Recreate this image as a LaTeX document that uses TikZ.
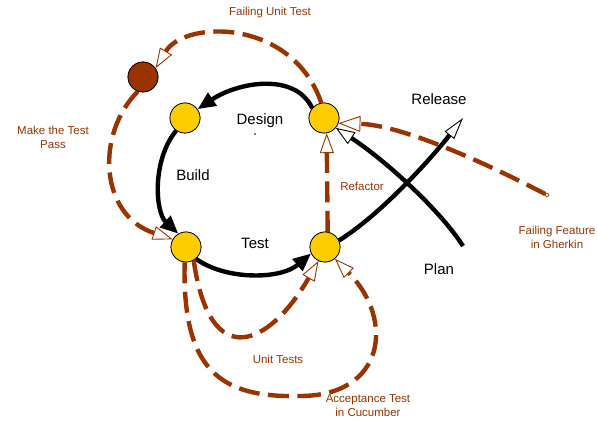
\documentclass[tikz,border=0pt]{standalone}
\usepackage{fontspec}
\setmainfont{Liberation Sans}
\usetikzlibrary{arrows.meta}
\definecolor{rust}{RGB}{153,51,0}
\definecolor{gold}{RGB}{255,204,0}
\tikzset{
  x=1pt, y=1pt,
  stage/.style={circle, draw=black, line width=0.7pt, fill=gold, minimum size=30pt, inner sep=0pt},
  redstage/.style={circle, draw=black, line width=0.7pt, fill=rust, minimum size=30pt, inner sep=0pt},
  flow/.style={draw=black, line width=4.4pt, -{Triangle[length=18pt, width=15pt]}},
  openblack/.style={draw=black, line width=4.4pt},
  tdd/.style={draw=rust, line width=4.4pt, dash pattern=on 21pt off 8.5pt},
  opentip/.style={-{Triangle[length=20pt, width=14pt, fill=white, line width=0.9pt]}},
  lab/.style={font=\fontsize{15}{17}\selectfont, text=black, inner sep=0pt},
  rlab/.style={font=\fontsize{11.5}{14}\selectfont, text=rust, align=center, inner sep=0pt},
}
\begin{document}
\begin{tikzpicture}
\useasboundingbox (0,0) rectangle (597,-422);
% nodes
\node[stage] (D1) at (185,-118) {};
\node[stage] (D2) at (324,-118) {};
\node[stage] (B) at (186,-247) {};
\node[stage] (T) at (325,-247) {};
\node[redstage] (R) at (143,-77) {};
\coordinate (relend) at (463,-118);
\coordinate (planend) at (463,-246);
\coordinate (gherkin) at (549,-196);
\coordinate (accbot) at (300,-396);
% black cycle
\draw[flow] (D2.140) .. controls (295,-72) and (238,-82) .. (D1.35);
\draw[flow] (D1.235) .. controls (152,-160) and (155,-212) .. (B.120);
\draw[flow] (B.-50) .. controls (225,-280) and (280,-280) .. (T.205);
\draw[openblack, -{Triangle[length=22pt, width=12pt, fill=white, line width=0.9pt]}] (T.25) .. controls (380,-215) and (430,-160) .. (relend);
\draw[openblack, -{Triangle[length=19pt, width=14pt, fill=white, line width=0.9pt]}] (planend) .. controls (440,-210) and (385,-160) .. (D2.-40);
% brown dashed
\draw[tdd, opentip] (D2.100) .. controls (292,-18) and (185,-20) .. (R.35);
\draw[tdd, opentip] (R.250) .. controls (95,-135) and (100,-215) .. (B.150);
\draw[tdd, {Circle[length=4.5pt, fill=white, line width=0.7pt, open]}-{Triangle[length=22pt, width=16pt, fill=white, line width=0.9pt]}] (gherkin) .. controls (480,-160) and (400,-125) .. (D2.-20);
\draw[tdd, opentip] (T.80) -- (D2.-80);
\draw[tdd, opentip] (B.-60) .. controls (210,-375) and (270,-345) .. (T.-115);
\draw[tdd] (B.-95) .. controls (182,-370) and (220,-398) .. (accbot);
\draw[tdd, opentip] (accbot) .. controls (385,-396) and (395,-320) .. (T.-50);
% redraw nodes on top
\node[stage] at (D1) {};
\node[stage] at (D2) {};
\node[stage] at (B) {};
\node[stage] at (T) {};
\node[redstage] at (R) {};
% labels
\node[lab] (ldesign) at (260,-121) {Design};
\fill[black] (255,-134) circle (0.8);
\node[lab] (lbuild) at (193,-175) {Build};
\node[lab] (ltest) at (255,-243) {Test};
\node[lab] (lrelease) at (439,-99) {Release};
\node[lab] (lplan) at (439,-269) {Plan};
\node[rlab] (lfut) at (270,-13) {Failing Unit Test};
\node[rlab] (lmake) at (53,-137) {Make the Test\\Pass};
\node[rlab] (lref) at (362,-186) {Refactor};
\node[rlab] (lgher) at (557,-237) {Failing Feature\\in Gherkin};
\node[rlab] (lunit) at (278,-359) {Unit Tests};
\node[rlab] (lacc) at (368,-406) {Acceptance Test\\in Cucumber};
\end{tikzpicture}
\end{document}
